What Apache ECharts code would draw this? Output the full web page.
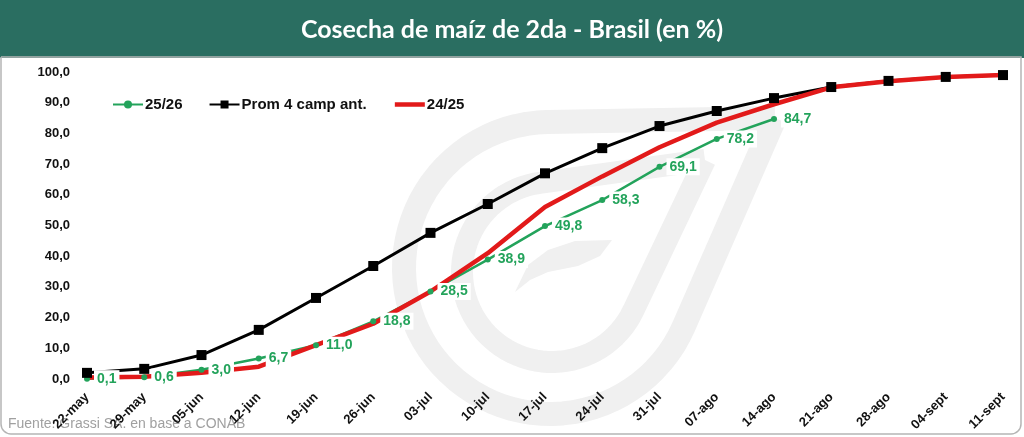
<!DOCTYPE html>
<html>
<head>
<meta charset="utf-8">
<script src="https://cdn.jsdelivr.net/npm/echarts@6/dist/echarts.min.js"></script>
<style>
html,body{margin:0;padding:0;background:#fff;}
#c{width:1024px;height:437px;}
</style>
</head>
<body>
<div id="c"></div>
<script>
const categories = ['22-may','29-may','05-jun','12-jun','19-jun','26-jun','03-jul','10-jul','17-jul','24-jul','31-jul','07-ago','14-ago','21-ago','28-ago','04-sept','11-sept'];
const serie2526 = [0.1, 0.6, 3.0, 6.7, 11.0, 18.8, 28.5, 38.9, 49.8, 58.3, 69.1, 78.2, 84.7, null, null, null, null];
const seriePromedio = [2.0, 3.3, 7.8, 16.0, 26.4, 36.8, 47.6, 57.0, 67.0, 75.2, 82.4, 87.3, 91.5, 95.1, 97.1, 98.4, 99.0];
const serie2425 = [0.5, 0.7, 2.0, 4.0, 11.0, 18.0, 28.5, 41.0, 56.0, 66.0, 75.5, 83.5, 89.5, 95.0, 97.0, 98.4, 99.0];
const yTicks = {min: 0, max: 100, interval: 10};

function fmt(v){ return Number(v).toFixed(1).replace('.', ','); }

// decorative watermark outline (teardrop) as point list
function teardropPoints(cx, cy, r, tx, ty){
  const dx = tx - cx, dy = ty - cy;
  const d = Math.sqrt(dx*dx + dy*dy);
  const a = Math.atan2(dy, dx);
  const off = Math.acos(r / d);
  const pts = [[tx, ty]];
  const a1 = a + off, a2 = a - off + Math.PI * 2;
  const n = 60;
  for (let i = 0; i <= n; i++) {
    const t = a1 + (a2 - a1) * i / n;
    pts.push([cx + r*Math.cos(t), cy + r*Math.sin(t)]);
  }
  pts.push([tx, ty]);
  return pts;
}

const GREEN = '#23a35b';
const RED = '#e21a1a';
const FONT = 'Arial, "Liberation Sans", sans-serif';
const chart = echarts.init(document.getElementById('c'));
chart.setOption({
  animation: false,
  backgroundColor: '#fff',
  title: {
    text: 'Cosecha de maíz de 2da - Brasil (en %)',
    left: 'center', top: 12,
    textStyle: {color: '#fff', fontSize: 25, fontWeight: 'bold', fontFamily: 'Lato, "Open Sans", sans-serif'}
  },
  graphic: [
    {type: 'rect', z: -10, silent: true, shape: {x: 0, y: 0, width: 1024, height: 58}, style: {fill: '#2a6e61'}},
    {type: 'rect', z: -10, silent: true, shape: {x: 1, y: 57, width: 1020, height: 377, r: [0,0,10,10]}, style: {fill: 'none', stroke: '#b5b5b5', lineWidth: 1.5}},
    {type: 'polyline', z: -5, silent: true, shape: {points: teardropPoints(550, 268, 146, 775, 118)}, style: {fill: 'none', stroke: '#f0f0f0', lineWidth: 24, lineJoin: 'round'}},
    {type: 'polyline', z: -5, silent: true, shape: {points: teardropPoints(552, 272, 90, 705, 160)}, style: {fill: 'none', stroke: '#f0f0f0', lineWidth: 22, lineJoin: 'round'}},
    {type: 'polygon', z: -5, silent: true, shape: {points: [[515,292],[528,265],[548,250],[575,241],[612,240],[600,256],[578,266],[548,272],[530,280]]}, style: {fill: '#f0f0f0'}},
    {type: 'text', z: -1, silent: true, left: 8, top: 417, style: {text: 'Fuente: Grassi SA. en base a CONAB', fill: '#a0a0a0', fontSize: 14, fontFamily: FONT}}
  ],
  legend: {
    top: 92, left: 107,
    itemWidth: 30, itemHeight: 10, itemGap: 26,
    textStyle: {fontSize: 15, fontWeight: 'bold', color: '#111', fontFamily: FONT, padding: [0, 0, 0, -3]},
    data: [
      {name: '25/26'},
      {name: 'Prom 4 camp ant.'},
      {name: '24/25', itemStyle: {color: 'rgba(0,0,0,0)', borderWidth: 0}, lineStyle: {color: RED, width: 4.5}}
    ]
  },
  grid: {left: 87, right: 21, top: 72, bottom: 58},
  xAxis: {
    type: 'category', data: categories, boundaryGap: false,
    axisLine: {show: false}, axisTick: {show: false},
    axisLabel: {rotate: 45, margin: 16, fontSize: 13, fontWeight: 'bold', color: '#111', interval: 0, fontFamily: FONT}
  },
  yAxis: {
    type: 'value', min: yTicks.min, max: yTicks.max, interval: yTicks.interval,
    splitLine: {show: false}, axisLine: {show: false}, axisTick: {show: false},
    axisLabel: {formatter: fmt, margin: 17, fontSize: 13, fontWeight: 'bold', color: '#111', fontFamily: FONT}
  },
  series: [
    {
      name: '25/26', type: 'line', data: serie2526, z: 2,
      color: GREEN, lineStyle: {width: 2.5, color: GREEN},
      symbol: 'circle', symbolSize: 6, showSymbol: true,
      itemStyle: {color: GREEN}
    },
    {
      name: 'Prom 4 camp ant.', type: 'line', data: seriePromedio, z: 2,
      color: '#000', lineStyle: {width: 3, color: '#000'},
      symbol: 'rect', symbolSize: 10, itemStyle: {color: '#000'}
    },
    {
      name: '24/25', type: 'line', data: serie2425, z: 2,
      color: RED, lineStyle: {width: 4.5, color: RED},
      symbol: 'none', itemStyle: {color: RED}
    },
    {
      name: '25/26 etiquetas', type: 'line', data: serie2526, z: 10, silent: true,
      lineStyle: {width: 0, opacity: 0},
      symbol: 'circle', symbolSize: 2, itemStyle: {color: 'rgba(0,0,0,0)'},
      label: {show: true, position: 'right', distance: 6, formatter: p => fmt(p.value),
        color: GREEN, fontSize: 14, fontWeight: 'bold', backgroundColor: '#fff', padding: [2, 3, 1, 3],
        fontFamily: FONT}
    }
  ]
});
</script>
</body>
</html>
